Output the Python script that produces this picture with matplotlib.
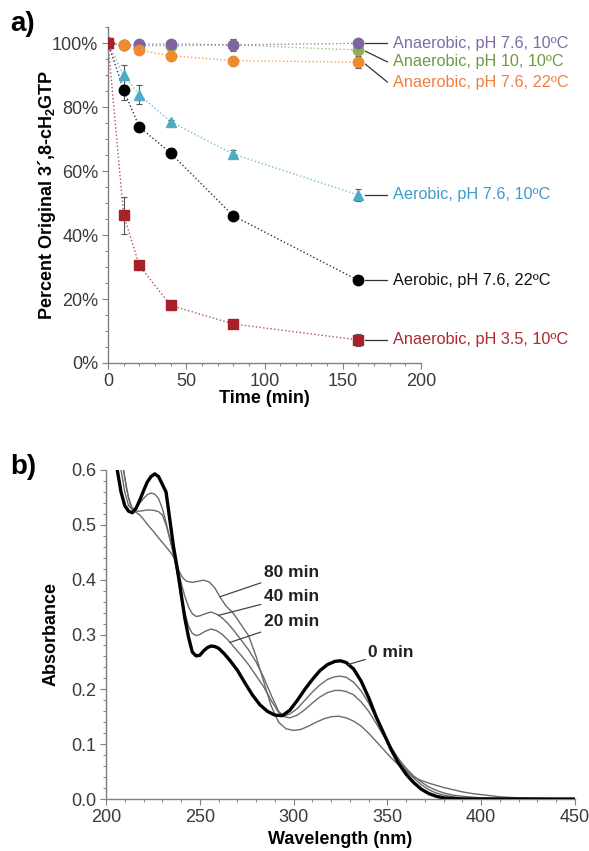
import numpy as np
import matplotlib
matplotlib.use("Agg")
import matplotlib.pyplot as plt
from matplotlib.ticker import MultipleLocator, FuncFormatter

plt.rcParams["font.family"] = ["Liberation Sans", "DejaVu Sans"]
plt.rcParams["mathtext.fontset"] = "custom"
plt.rcParams["mathtext.rm"] = "Liberation Sans"
plt.rcParams["mathtext.bf"] = "Liberation Sans:bold"

# ---------------- panel a data ----------------
time_min = [0, 10, 20, 40, 80, 160]

ana_76_10 = [100, 99.4, 99.6, 99.7, 99.4, 99.9]
ana_10_10 = [100, 99.5, 99.2, 99.1, 99.4, 97.8]
ana_76_22 = [100, 99.5, 97.7, 96.0, 94.5, 94.0]
aer_76_10 = [100, 90.0, 83.8, 75.4, 65.3, 52.5]
aer_76_22 = [100, 85.3, 73.8, 65.6, 46.0, 25.8]
ana_35_10 = [100, 46.2, 30.5, 18.0, 12.2, 7.2]

err_76_10 = [0.5, 1.0, 0.5, 0.5, 0.5, 0.8]
err_10_10 = [0.5, 1.0, 0.5, 0.5, 2.0, 1.0]
err_76_22 = [0.5, 0.5, 0.5, 0.5, 0.5, 1.8]
err_aer10 = [0.5, 3.0, 3.0, 0.5, 1.2, 1.8]
err_aer22 = [0.5, 3.0, 0.5, 1.6, 0.5, 0.5]
err_35_10 = [0.5, 5.8, 0.8, 0.5, 0.5, 1.8]

series_a = [
    ("Anaerobic, pH 10, 10ºC", ana_10_10, err_10_10, "#8EB050", "o", "#6E9A40", -3.7),
    ("Anaerobic, pH 7.6, 10ºC", ana_76_10, err_76_10, "#8064A2", "o", "#7F6AA8", 0.0),
    ("Anaerobic, pH 7.6, 22ºC", ana_76_22, err_76_22, "#F08A30", "o", "#F07F3C", -6.2),
    ("Aerobic, pH 7.6, 10ºC", aer_76_10, err_aer10, "#4BACC6", "^", "#3D9CCC", 0.0),
    ("Aerobic, pH 7.6, 22ºC", aer_76_22, err_aer22, "#000000", "o", "#111111", 0.0),
    ("Anaerobic, pH 3.5, 10ºC", ana_35_10, err_35_10, "#A8202A", "s", "#B0282E", 0.0),
]

# ---------------- panel b data ----------------
wl_0 = [204, 206, 208, 210, 212, 214, 216, 218, 220, 222, 224, 226, 228, 230, 232, 234,
        236, 238, 240, 242, 244, 246, 248, 250, 252, 254, 256, 258, 260, 263, 266, 270,
        274, 278, 282, 286, 290, 294, 298, 302, 306, 310, 314, 318, 322, 325, 328, 332,
        336, 340, 344, 348, 352, 356, 360, 364, 368, 372, 376, 380, 390, 400, 450]
abs_0 = [0.66, 0.60, 0.56, 0.535, 0.525, 0.522, 0.53, 0.545, 0.562, 0.578, 0.588, 0.593,
         0.588, 0.574, 0.56, 0.51, 0.46, 0.42, 0.375, 0.33, 0.295, 0.268, 0.261, 0.262,
         0.27, 0.276, 0.279, 0.278, 0.275, 0.265, 0.253, 0.235, 0.212, 0.19, 0.172, 0.16,
         0.153, 0.152, 0.162, 0.18, 0.2, 0.218, 0.234, 0.245, 0.251, 0.252, 0.249, 0.237,
         0.215, 0.185, 0.15, 0.12, 0.09, 0.065, 0.045, 0.03, 0.018, 0.01, 0.005, 0.002,
         0.0, 0.0, 0.0]

wl_20 = [206, 208, 210, 212, 214, 216, 218, 220, 222, 224, 226, 228, 230, 232, 234, 236,
         238, 240, 242, 244, 246, 248, 250, 253, 256, 259, 262, 265, 268, 272, 276, 280,
         284, 288, 292, 295, 298, 302, 306, 310, 314, 318, 322, 325, 328, 332, 336, 340,
         344, 348, 352, 356, 360, 364, 368, 372, 376, 380, 385, 390, 400, 450]
abs_20 = [0.65, 0.6, 0.56, 0.535, 0.528, 0.532, 0.54, 0.548, 0.555, 0.558, 0.556, 0.548,
          0.53, 0.505, 0.475, 0.445, 0.41, 0.37, 0.34, 0.315, 0.302, 0.298, 0.3, 0.306,
          0.31, 0.307, 0.3, 0.29, 0.278, 0.262, 0.245, 0.225, 0.205, 0.18, 0.158, 0.152,
          0.155, 0.165, 0.18, 0.195, 0.208, 0.218, 0.223, 0.224, 0.222, 0.213, 0.197, 0.175,
          0.147, 0.12, 0.095, 0.072, 0.053, 0.038, 0.026, 0.017, 0.011, 0.007, 0.004, 0.002,
          0.001, 0.0]

wl_40 = [206, 208, 210, 212, 214, 216, 218, 220, 222, 224, 226, 228, 230, 232, 234, 236,
         238, 240, 242, 244, 246, 248, 250, 253, 256, 259, 262, 265, 268, 272, 276, 280,
         284, 288, 292, 295, 298, 302, 306, 310, 314, 318, 322, 325, 328, 332, 336, 340,
         344, 348, 352, 356, 360, 364, 368, 372, 376, 380, 385, 390, 400, 410, 450]
abs_40 = [0.68, 0.63, 0.585, 0.55, 0.53, 0.525, 0.525, 0.526, 0.527, 0.527, 0.526, 0.524,
          0.518, 0.5, 0.475, 0.45, 0.425, 0.395, 0.37, 0.35, 0.338, 0.333, 0.334, 0.338,
          0.341, 0.337, 0.33, 0.32, 0.308, 0.29, 0.272, 0.25, 0.222, 0.19, 0.16, 0.15,
          0.148, 0.153, 0.163, 0.175, 0.186, 0.194, 0.198, 0.198, 0.196, 0.19, 0.177, 0.16,
          0.138, 0.115, 0.093, 0.073, 0.056, 0.042, 0.031, 0.022, 0.016, 0.011, 0.007,
          0.005, 0.002, 0.001, 0.0]

wl_80 = [207, 209, 211, 213, 215, 218, 220, 223, 226, 229, 232, 235, 237, 239, 241, 243,
         246, 249, 252, 255, 258, 261, 264, 268, 272, 276, 280, 284, 288, 292, 296, 300,
         304, 308, 312, 316, 320, 324, 328, 332, 336, 340, 344, 348, 352, 356, 360, 364,
         368, 372, 376, 380, 385, 390, 395, 400, 405, 410, 415, 420, 430, 450]
abs_80 = [0.66, 0.61, 0.565, 0.535, 0.525, 0.518, 0.51, 0.497, 0.485, 0.472, 0.46, 0.447,
          0.435, 0.415, 0.403, 0.397, 0.395, 0.397, 0.399, 0.396, 0.385, 0.367, 0.352,
          0.338, 0.318, 0.298, 0.26, 0.215, 0.17, 0.14, 0.128, 0.125, 0.127, 0.133, 0.14,
          0.146, 0.15, 0.151, 0.148, 0.142, 0.133, 0.12, 0.105, 0.09, 0.075, 0.062, 0.05,
          0.04, 0.034, 0.029, 0.025, 0.021, 0.017, 0.013, 0.01, 0.008, 0.006, 0.004, 0.003,
          0.002, 0.001, 0.0]

spectra = [("0 min", wl_0, abs_0), ("20 min", wl_20, abs_20),
           ("40 min", wl_40, abs_40), ("80 min", wl_80, abs_80)]
# label anchor (wavelength on curve) and text position (wavelength, absorbance)
spec_labels = {"80 min": (260.7, 284.0, 0.413), "40 min": (259.9, 284.0, 0.369),
               "20 min": (266.1, 284.0, 0.323), "0 min": (329.2, 339.7, 0.268)}

AX_COL = "#7f7f7f"
TXT_COL = "#3a3a3a"


def style_axes(ax):
    for s in ["top", "right"]:
        ax.spines[s].set_visible(False)
    for s in ["left", "bottom"]:
        ax.spines[s].set_color(AX_COL)
        ax.spines[s].set_linewidth(1.0)
    ax.tick_params(which="major", direction="out", length=4, width=0.8, color=AX_COL,
                   labelsize=13, labelcolor=TXT_COL, pad=3)
    ax.tick_params(which="minor", direction="out", length=2.5, width=0.7, color=AX_COL)


fig = plt.figure(figsize=(5.89, 8.51), dpi=100)

# ---------------- panel a ----------------
ax1 = fig.add_axes([108 / 589, 1 - 363 / 851, 313 / 589, 336 / 851])
for label, vals, errs, col, mk, tcol, dy in series_a:
    ax1.plot(time_min, vals, linestyle=":", color=col, linewidth=1.0, alpha=0.8, zorder=2)
    ax1.errorbar(time_min, vals, yerr=errs, fmt=mk, color=col, markersize=7.5,
                 ecolor="#555555", elinewidth=0.8, capsize=2, capthick=0.8,
                 markeredgecolor=col, zorder=3)
    x_end, y_end = time_min[-1], vals[-1]
    ax1.plot([x_end + 4.5, x_end + 18.5], [y_end + dy * 0.1, y_end + dy], color="#333333",
             linewidth=0.9, clip_on=False, zorder=1)
    ax1.text(x_end + 22.0, y_end + dy, label, color=tcol, fontsize=11.7, va="center",
             ha="left", clip_on=False)

ax1.set_xlim(0, 200)
ax1.set_ylim(0, 105)
ax1.xaxis.set_major_locator(MultipleLocator(50))
ax1.xaxis.set_minor_locator(MultipleLocator(10))
ax1.yaxis.set_major_locator(MultipleLocator(20))
ax1.yaxis.set_minor_locator(MultipleLocator(5))
ax1.yaxis.set_major_formatter(FuncFormatter(lambda v, p: f"{v:.0f}%"))
style_axes(ax1)
ax1.set_xlabel("Time (min)", fontsize=13, fontweight="bold", labelpad=0)
ax1.set_ylabel(r"Percent Original 3´,8-cH$_\mathbf{2}$GTP", fontsize=13,
               fontweight="bold", labelpad=-4)
fig.text(10 / 589, 1 - 24 / 851, "a)", fontsize=20, fontweight="bold", va="center")

# ---------------- panel b ----------------
ax2 = fig.add_axes([106 / 589, 1 - 799 / 851, 469 / 589, 329 / 851])
for label, wl, ab in spectra:
    thick = label == "0 min"
    ax2.plot(wl, ab, color="#000000" if thick else "#6a6a6a",
             linewidth=2.4 if thick else 1.0, zorder=3 if thick else 2)
for label, (anchor_wl, tx, ty) in spec_labels.items():
    wl, ab = next((w, a) for l, w, a in spectra if l == label)
    ay = np.interp(anchor_wl, wl, ab)
    ax2.annotate(label, xy=(anchor_wl, ay), xytext=(tx, ty), fontsize=12.5,
                 fontweight="bold", color="#222222", va="center", ha="left",
                 arrowprops=dict(arrowstyle="-", color="#444444", lw=0.9,
                                 shrinkA=0, shrinkB=0))

ax2.set_xlim(200, 450)
ax2.set_ylim(0, 0.6)
ax2.xaxis.set_major_locator(MultipleLocator(50))
ax2.xaxis.set_minor_locator(MultipleLocator(10))
ax2.yaxis.set_major_locator(MultipleLocator(0.1))
ax2.yaxis.set_minor_locator(MultipleLocator(0.02))
ax2.yaxis.set_major_formatter(FuncFormatter(lambda v, p: f"{v:.1f}"))
style_axes(ax2)
ax2.set_xlabel("Wavelength (nm)", fontsize=13, fontweight="bold", labelpad=4)
ax2.set_ylabel("Absorbance", fontsize=13, fontweight="bold", labelpad=8)
fig.text(10 / 589, 1 - 467 / 851, "b)", fontsize=20, fontweight="bold", va="center")

fig.savefig("out.png", dpi=100)
